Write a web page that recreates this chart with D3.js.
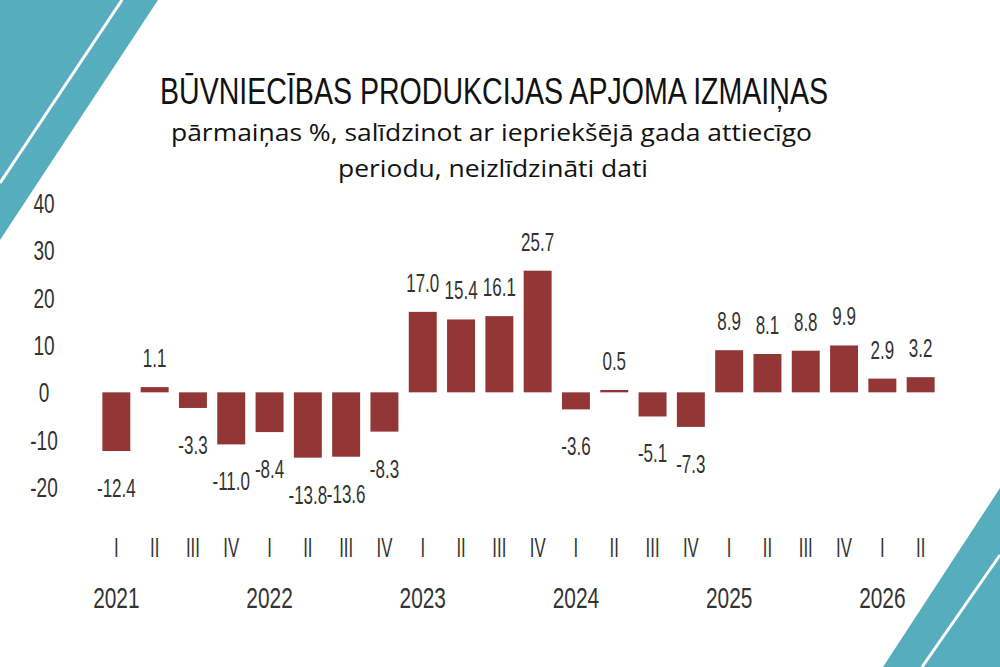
<!DOCTYPE html>
<html><head><meta charset="utf-8">
<script src="https://cdn.jsdelivr.net/npm/d3@7"></script>
<style>body{margin:0;background:#fff}</style>
</head><body>
<svg id="c" width="1000" height="667"></svg>
<script>
var quarters = ['I','II','III','IV','I','II','III','IV','I','II','III','IV','I','II','III','IV','I','II','III','IV','I','II'];
var values = [-12.4,1.1,-3.3,-11.0,-8.4,-13.8,-13.6,-8.3,17.0,15.4,16.1,25.7,-3.6,0.5,-5.1,-7.3,8.9,8.1,8.8,9.9,2.9,3.2];
var years = ['2021','2022','2023','2024','2025','2026'];
var yTicks = [40,30,20,10,0,-10,-20];

var svg = d3.select('#c');
var font = '"Liberation Sans","DejaVu Sans",sans-serif';

// condensed text: squeeze horizontally
function cText(sel, size, sx) {
	return sel.append('text')
		.attr('text-anchor','middle')
		.style('font-family',font).style('font-size',size+'px').attr('fill','#333')
		.attr('transform',function(d){ return 'translate(' + d.x + ',' + d.y + ') scale(' + (sx||0.7) + ',1)'; })
		.text(function(d){ return d.t; });
}

// corner decorations
svg.append('path').attr('d','M0,0L158,0L0,240Z').attr('fill','#56adbd');
svg.append('line').attr('x1',122).attr('y1',0).attr('x2',0).attr('y2',183).attr('stroke','#fff').attr('stroke-width',3);
svg.append('path').attr('d','M1000,488L1000,667L883,667Z').attr('fill','#56adbd');
svg.append('line').attr('x1',1000).attr('y1',555).attr('x2',922).attr('y2',667).attr('stroke','#fff').attr('stroke-width',3);

svg.append('text').attr('x',160).attr('y',104)
	.attr('textLength',668).attr('lengthAdjust','spacingAndGlyphs')
	.style('font-family',font).style('font-size','37px').attr('fill','#111')
	.text('BŪVNIECĪBAS PRODUKCIJAS APJOMA IZMAIŅAS');
svg.append('text').attr('x',171).attr('y',141)
	.attr('textLength',641).attr('lengthAdjust','spacingAndGlyphs')
	.style('font-family','"Open Sans",sans-serif').style('font-size','23px').attr('fill','#111')
	.text('pārmaiņas %, salīdzinot ar iepriekšējā gada attiecīgo');
svg.append('text').attr('x',338).attr('y',177)
	.attr('textLength',310).attr('lengthAdjust','spacingAndGlyphs')
	.style('font-family','"Open Sans",sans-serif').style('font-size','23px').attr('fill','#111')
	.text('periodu, neizlīdzināti dati');

var x = d3.scaleBand().domain(d3.range(values.length)).range([97,940]).paddingInner(0.27).paddingOuter(0.14);
var y = d3.scaleLinear().domain([-20,40]).range([487,203]);
var cx = function(i){ return x(i) + x.bandwidth()/2; };

cText(svg.selectAll('.yt').data(yTicks.map(function(v){ return {x:44, y:y(v)+10, t:v}; })).enter(), 28, 0.68);

svg.selectAll('.bar').data(values).enter().append('rect')
	.attr('x',function(d,i){return x(i);}).attr('width',x.bandwidth())
	.attr('y',function(d){return y(Math.max(0,d));})
	.attr('height',function(d){return Math.abs(y(d)-y(0));})
	.attr('fill','#923636');

cText(svg.selectAll('.vl').data(values.map(function(v,i){
	return {x:cx(i), y: v>=0 ? y(v)-20 : y(v)+46, t:v.toFixed(1)};
})).enter(), 25, 0.68);

cText(svg.selectAll('.q').data(quarters.map(function(q,i){ return {x:cx(i), y:557, t:q}; })).enter(), 28, 0.6);

cText(svg.selectAll('.yr').data(years.map(function(yr,i){ return {x:cx(i*4), y:608, t:yr}; })).enter(), 29, 0.72);
</script>
</body></html>
